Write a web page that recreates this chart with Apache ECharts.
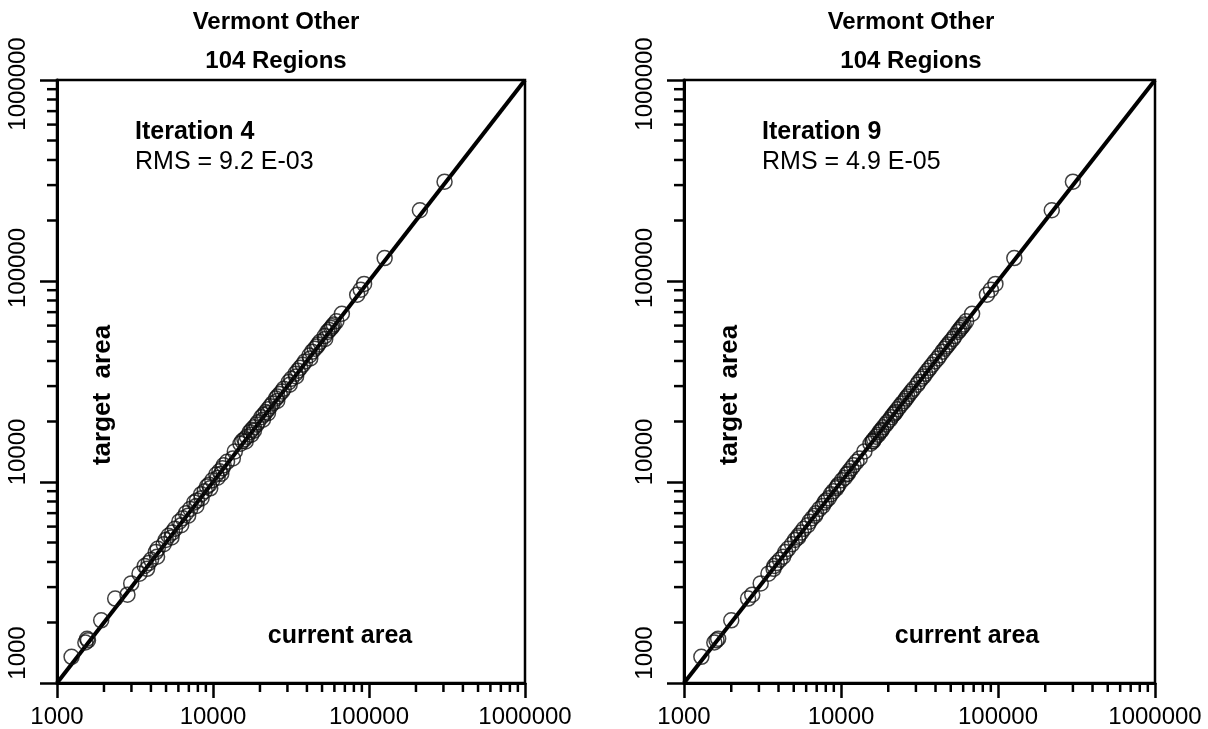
<!DOCTYPE html>
<html>
<head>
<meta charset="utf-8">
<script src="https://cdn.jsdelivr.net/npm/echarts@6/dist/echarts.min.js"></script>
<style>
html,body{margin:0;padding:0;background:#fff;}
#chart{width:1208px;height:729px;}
</style>
</head>
<body>
<div id="chart"></div>
<script>
// ---- data ----
const targetArea = [
  1350,1590,1630,1660,2050,2630,2750,3130,3500,3700,
  3820,3950,4100,4250,4480,4650,4900,5150,5300,5400,
  5600,5850,6100,6350,6600,6800,7000,7350,7600,7900,
  8100,8300,8700,9000,9300,9500,9700,10200,10500,10900,
  11000,11300,11700,12100,12600,13100,14200,15500,15900,16000,
  16300,16800,17200,17700,18000,18200,18700,19300,19800,20400,
  21000,21600,22000,22300,23000,23800,24600,25300,26000,26600,
  27400,28200,29100,30500,31400,32600,33500,34600,35800,37000,
  38300,39800,41200,42600,44500,46000,47200,48300,49800,51500,
  53200,55800,57000,58400,59500,60700,63000,68700,85400,90500,
  96700,130000,225000,312000
];
const currentIter4 = [
  1240,1520,1580,1560,1920,2360,2830,2990,3380,3780,
  3650,3870,4010,4380,4300,4420,4830,4980,5420,5190,
  5480,5700,6250,6080,6400,6930,6720,7150,7820,7580,
  7900,8450,8400,8850,9600,9150,9450,9900,10700,10500,
  11300,11000,11500,11700,12300,13400,13800,15000,16200,15400,
  15900,16500,17600,17200,18300,17700,18300,19000,19400,20900,
  20400,21100,22500,21800,22500,23300,24100,25800,25300,25900,
  26800,27700,28400,31000,30600,31800,34100,33800,35000,36200,
  37600,38900,42000,41500,43200,44900,46300,47100,48600,52400,
  52000,54200,55600,57300,58200,59400,61800,67000,84000,88500,
  93000,126000,212000,305000
];
const currentIter9 = [
  1290,1560,1610,1650,2000,2560,2720,3080,3450,3720,
  3760,3900,4080,4280,4420,4600,4880,5100,5330,5350,
  5570,5800,6140,6300,6550,6830,6950,7300,7650,7840,
  8050,8350,8640,8950,9350,9440,9650,10150,10560,10830,
  11050,11240,11650,12030,12550,13150,14100,15400,15950,15900,
  16250,16700,17250,17600,18050,18100,18600,19250,19700,20450,
  20900,21500,22050,22200,22900,23700,24500,25350,25900,26500,
  27300,28100,29000,30550,31300,32450,33550,34450,35650,36850,
  38150,39650,41250,42450,44300,45800,47000,48100,49600,51550,
  53000,55550,56750,58150,59250,60450,62700,68400,85000,90100,
  96300,127000,220000,300000
];
const axisMin = 1000;
const axisMax = 1000000;
const decades = [1000, 10000, 100000];
const minorMultipliers = [2, 3, 4, 5, 6, 7, 8, 9];
const panels = [
  {title: 'Vermont Other', sub: '104 Regions', iter: 'Iteration 4', rms: 'RMS = 9.2 E-03', current: currentIter4},
  {title: 'Vermont Other', sub: '104 Regions', iter: 'Iteration 9', rms: 'RMS = 4.9 E-05', current: currentIter9}
];
const xLabel = 'current area';
const yLabel = 'target  area';

// ---- layout ----
const FONT = '"Liberation Sans", Arial, Helvetica, sans-serif';
const grids = [
  {left: 57, right: 1208 - 525, top: 80, bottom: 729 - 683, titleX: 276},
  {left: 684, right: 1208 - 1155, top: 80, bottom: 729 - 683, titleX: 911}
];
const minorVals = [];
decades.forEach(d => minorMultipliers.forEach(m => minorVals.push(d * m)));

const yRich = {
  y1: {fontSize: 24, fontFamily: FONT, color: '#000', padding: [0, 0, 0, 60]},
  y2: {fontSize: 24, fontFamily: FONT, color: '#000', padding: [0, 0, 0, 60]},
  y3: {fontSize: 24, fontFamily: FONT, color: '#000', padding: [0, 0, 0, 26]},
  y4: {fontSize: 24, fontFamily: FONT, color: '#000', padding: [0, 8, 0, 0]}
};
function yFmt(v) {
  const k = Math.round(Math.log10(v)) - 2;
  return '{y' + k + '|' + v + '}';
}

const option = {
  backgroundColor: '#fff',
  animation: false,
  title: [], grid: [], xAxis: [], yAxis: [], series: [], graphic: []
};

panels.forEach((p, i) => {
  const g = grids[i];
  const plotL = g.left;
  option.grid.push({left: g.left, right: g.right, top: g.top, bottom: g.bottom,
    show: true, borderColor: '#000', borderWidth: 2.5, containLabel: false});
  option.xAxis.push({
    type: 'log', logBase: 10, gridIndex: i, min: axisMin, max: axisMax,
    axisLine: {show: true, onZero: false, lineStyle: {color: '#000', width: 3}},
    axisTick: {show: true, inside: false, length: 15, lineStyle: {color: '#000', width: 2.5}},
    splitLine: {show: false},
    axisLabel: {show: true, margin: 22, fontSize: 24, fontFamily: FONT, color: '#000',
      showMinLabel: true, showMaxLabel: true, hideOverlap: false, formatter: v => String(v)}
  });
  option.yAxis.push({
    type: 'log', logBase: 10, gridIndex: i, min: axisMin, max: axisMax,
    axisLine: {show: true, onZero: false, lineStyle: {color: '#000', width: 3}},
    axisTick: {show: true, inside: false, length: 17, lineStyle: {color: '#000', width: 2.5}},
    splitLine: {show: false},
    axisLabel: {show: true, rotate: 90, margin: 27, fontSize: 24, fontFamily: FONT, color: '#000',
      showMinLabel: true, showMaxLabel: true, hideOverlap: false, formatter: yFmt, rich: yRich}
  });
  option.title.push({
    text: p.title, subtext: p.sub, left: g.titleX, top: 10, textAlign: 'center', padding: 0, itemGap: 15,
    textStyle: {fontSize: 24, fontWeight: 'bold', fontFamily: FONT, color: '#000'},
    subtextStyle: {fontSize: 24, fontWeight: 'bold', fontFamily: FONT, color: '#000'}
  });
  // diagonal y = x
  option.series.push({
    type: 'line', xAxisIndex: i, yAxisIndex: i, data: [[axisMin, axisMin], [axisMax, axisMax]],
    symbol: 'none', lineStyle: {color: '#000', width: 4}, silent: true, z: 3
  });
  // points
  option.series.push({
    type: 'scatter', xAxisIndex: i, yAxisIndex: i,
    data: p.current.map((c, k) => [c, targetArea[k]]),
    symbol: 'circle', symbolSize: 15,
    itemStyle: {color: 'rgba(255,255,255,0)', borderColor: '#111', borderWidth: 1.5}, z: 4
  });
  // minor ticks x
  option.series.push({
    type: 'custom', xAxisIndex: i, yAxisIndex: i, clip: false, silent: true, z: 5,
    data: minorVals.map(v => [v, axisMin]),
    renderItem: (params, api) => {
      const pt = api.coord([api.value(0), api.value(1)]);
      return {type: 'line', shape: {x1: pt[0], y1: pt[1], x2: pt[0], y2: pt[1] + 9},
        style: {stroke: '#000', lineWidth: 2.5}};
    }
  });
  // minor ticks y
  option.series.push({
    type: 'custom', xAxisIndex: i, yAxisIndex: i, clip: false, silent: true, z: 5,
    data: minorVals.map(v => [axisMin, v]),
    renderItem: (params, api) => {
      const pt = api.coord([api.value(0), api.value(1)]);
      return {type: 'line', shape: {x1: pt[0] - 10, y1: pt[1], x2: pt[0], y2: pt[1]},
        style: {stroke: '#000', lineWidth: 2.5}};
    }
  });
  option.graphic.push(
    {type: 'text', left: plotL + 78, top: 120, style: {text: p.iter, font: 'bold 25px ' + FONT, fill: '#000'}},
    {type: 'text', left: plotL + 78, top: 150, style: {text: p.rms, font: '25px ' + FONT, fill: '#000'}},
    {type: 'text', x: plotL + 46, y: 395, rotation: Math.PI / 2,
      style: {text: yLabel, font: 'bold 26px ' + FONT, fill: '#000', align: 'center', verticalAlign: 'middle'}},
    {type: 'text', x: plotL + 283, y: 636,
      style: {text: xLabel, font: 'bold 25px ' + FONT, fill: '#000', align: 'center', verticalAlign: 'middle'}}
  );
});

const chart = echarts.init(document.getElementById('chart'), null, {renderer: 'canvas'});
chart.setOption(option);
</script>
</body>
</html>
